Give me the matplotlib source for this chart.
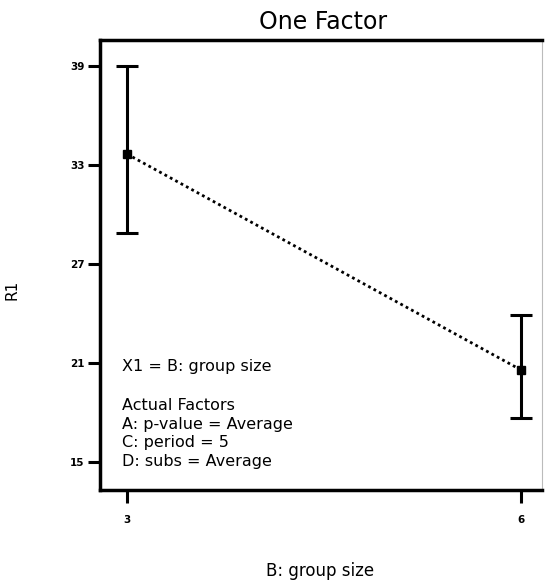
import matplotlib
matplotlib.use("Agg")
import matplotlib.pyplot as plt

# data
group_size = [3, 6]
r1_mean = [33.67, 20.58]
r1_low = [28.88, 17.67]
r1_high = [39.0, 23.9]

x_ticks = [3, 6]
y_ticks = [15, 21, 27, 33, 39]

factor_lines = ["Actual Factors",
                "A: p-value = Average",
                "C: period = 5",
                "D: subs = Average"]

plt.rcParams['font.family'] = ['DejaVu Sans']

fig = plt.figure(figsize=(5.45, 5.85), dpi=100)
ax = fig.add_axes([0.1835, 0.1624, 0.811, 0.769])

err_lo = [m - l for m, l in zip(r1_mean, r1_low)]
err_hi = [h - m for m, h in zip(r1_mean, r1_high)]

ax.errorbar(group_size, r1_mean, yerr=[err_lo, err_hi], fmt='none',
            ecolor='black', elinewidth=2.2, capsize=8, capthick=2.2)
ax.plot(group_size, r1_mean, color='black', linestyle=(0, (1, 1.2)),
        linewidth=2, marker='s', markersize=6)

ax.set_xlim(2.794, 6.16)
ax.set_ylim(13.3, 40.58)
ax.set_xticks(x_ticks)
ax.set_yticks(y_ticks)
ax.tick_params(direction='out', length=9, width=2.2, labelsize=7.5)
ax.tick_params(axis='x', pad=9)
ax.tick_params(axis='y', pad=2)
for lbl in ax.get_xticklabels() + ax.get_yticklabels():
    lbl.set_fontweight('bold')

for side in ['left', 'top', 'bottom']:
    ax.spines[side].set_linewidth(2.5)
ax.spines['right'].set_linewidth(0.8)
ax.spines['right'].set_color('#bbbbbb')

fig.text(0.593, 0.962, "One Factor", fontsize=17, ha='center', va='center')
fig.text(0.588, 0.024, "B: group size", fontsize=12, ha='center', va='center')
fig.text(0.022, 0.505, "R1", fontsize=11, rotation=90, ha='center', va='center')

# annotation text inside the plot
ax.text(2.96, 20.76, "X1 = B: group size", fontsize=11.5, va='center')
y0 = 18.45
for i, line in enumerate(factor_lines):
    ax.text(2.96, y0 - i * 1.15, line, fontsize=11.5, va='center')

plt.savefig("out.png", dpi=100)
